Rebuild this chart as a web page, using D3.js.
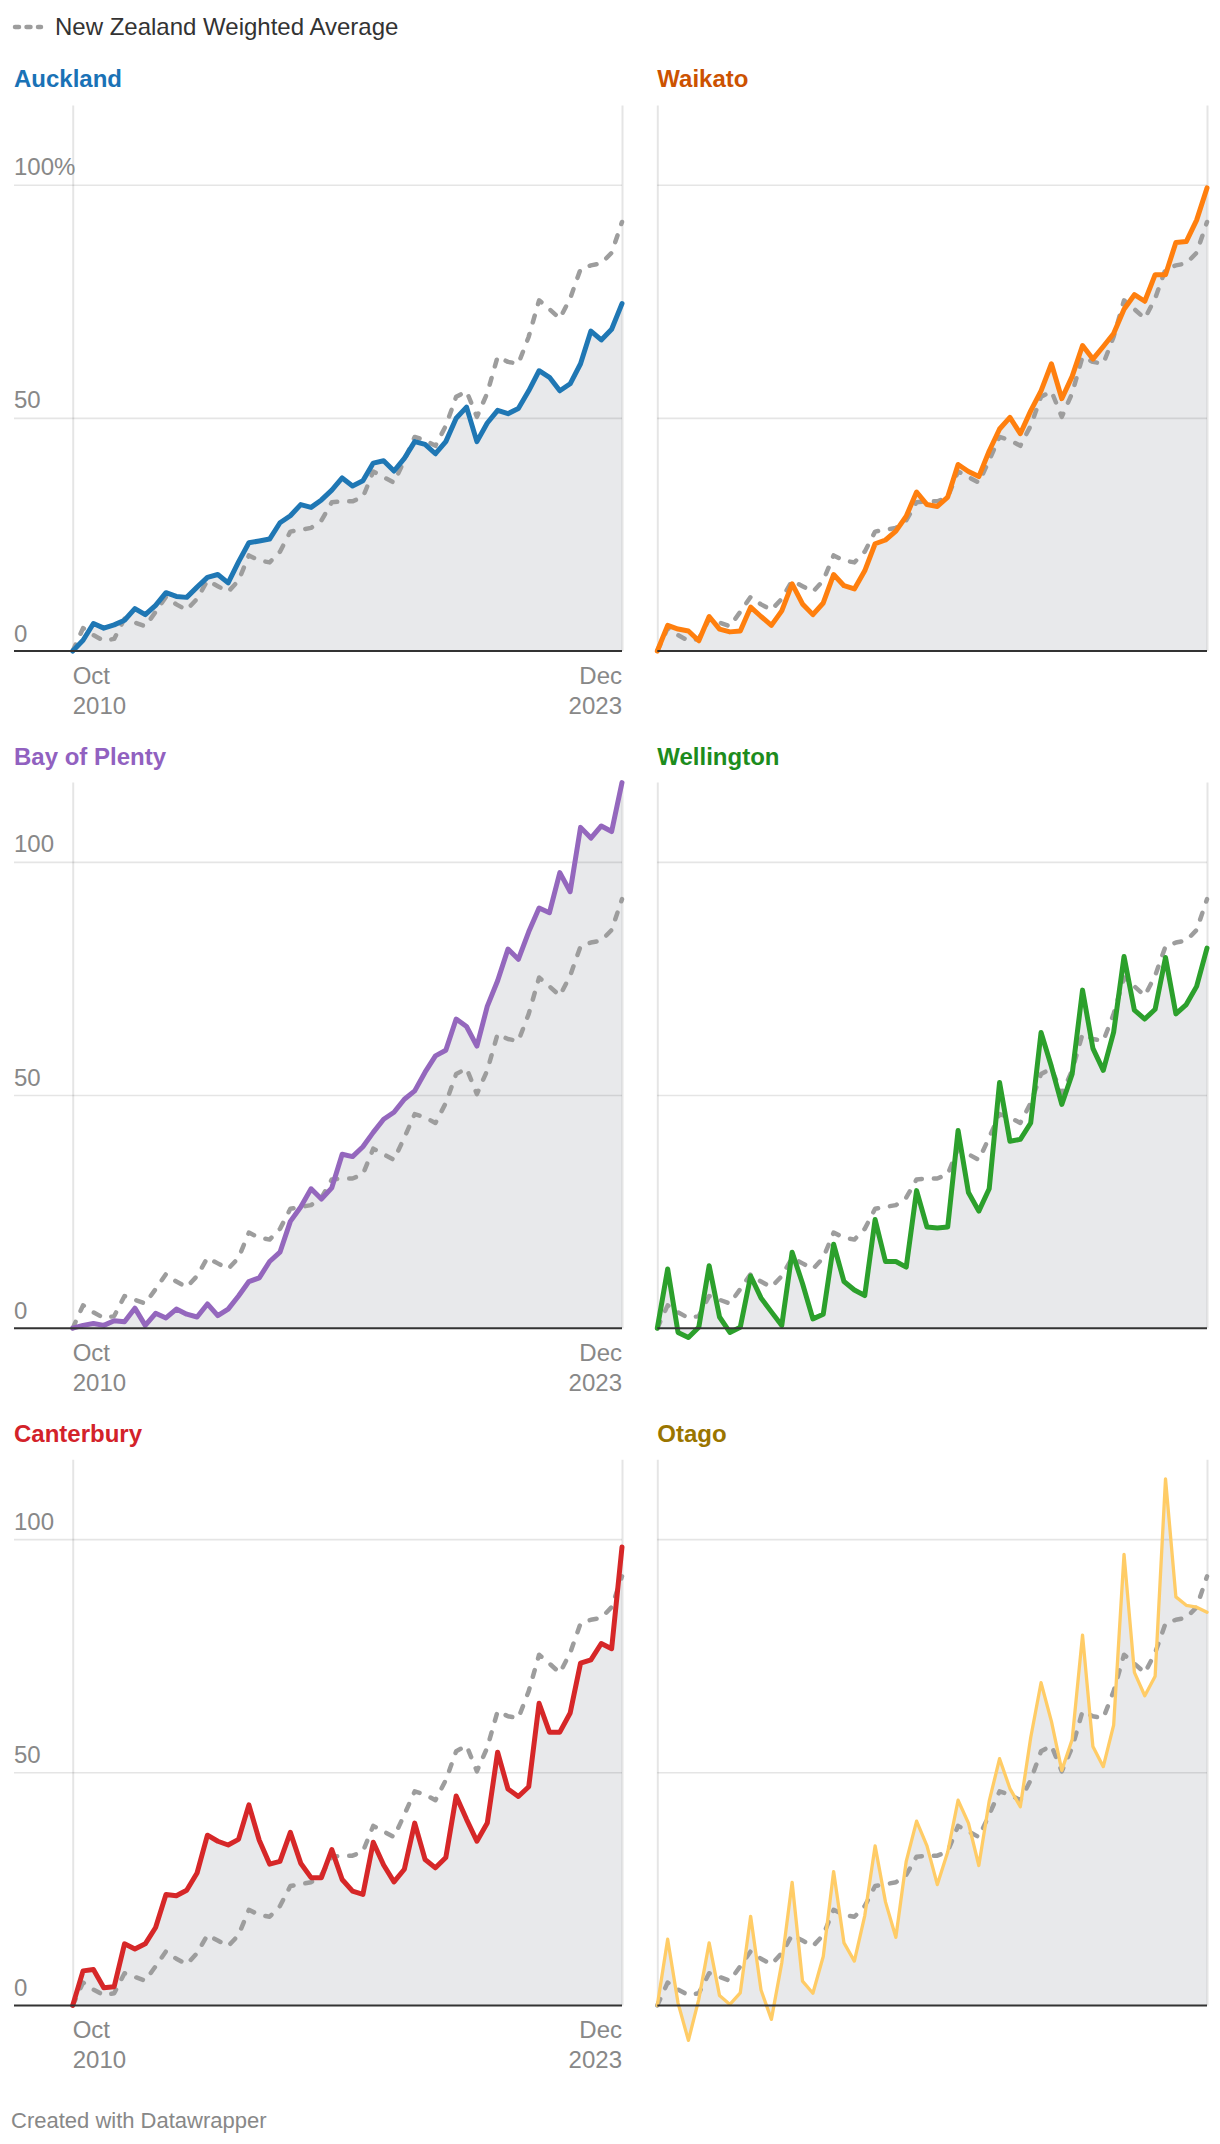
<!DOCTYPE html>
<html><head><meta charset="utf-8">
<script src="https://cdn.jsdelivr.net/npm/d3@7/dist/d3.min.js"></script>
<style>
html,body{margin:0;padding:0;background:#fff;}
svg{display:block;font-family:"Liberation Sans",Arial,Helvetica,sans-serif;}
</style>
</head><body>
<svg id="chart" width="1220" height="2144"></svg>
<script>
// ---------- DATA ----------
const regions = ["Auckland","Waikato","Bay of Plenty","Wellington","Canterbury","Otago"];
const lineColors = ["#1f77b4","#ff7f0e","#9467bd","#2ca02c","#d62728","#ffcc66"];
const titleColors = ["#1a72b6","#cc5200","#9161c0","#1d8c1d","#d3222a","#9a7500"];
const lineWidths = [5,5,5,5,5,3.3];

const auckland = [0,2.3,5.9,4.9,5.6,6.6,9.1,7.8,9.8,12.5,11.7,11.5,13.7,15.8,16.4,14.6,19.1,23.2,23.6,24.0,27.5,29.0,31.4,30.8,32.4,34.5,37.1,35.4,36.5,40.3,40.8,38.6,41.3,44.9,44.3,42.3,44.9,49.9,52.3,44.9,48.9,51.6,50.9,52.0,55.8,60.1,58.7,55.8,57.3,61.6,68.6,66.7,69.0,74.5];
const waikato = [0,5.5,4.7,4.3,2.2,7.4,4.7,4.1,4.3,9.4,7.4,5.5,8.6,14.4,10.1,7.8,10.3,16.4,14.0,13.3,17.2,23.0,23.8,25.7,28.9,34.1,31.4,31.0,33.0,40.0,38.5,37.4,42.9,47.6,50.1,46.6,51.5,55.8,61.6,54.1,58.9,65.5,62.6,65.3,68.1,73.3,76.4,75.0,80.7,80.7,87.6,87.8,92.4,99.3];
const bayOfPlenty = [0,0.6,1.0,0.6,1.6,1.4,4.3,0.6,3.2,2.2,4.1,3.0,2.4,5.2,2.7,4.1,6.9,10.0,10.8,14.3,16.3,22.9,26.0,29.9,27.7,30.1,37.3,36.8,38.9,42.0,44.8,46.3,49.1,50.9,54.9,58.4,59.6,66.3,64.7,60.5,69.0,74.5,81.3,79.1,85.0,90.1,89.1,97.7,93.6,107.4,105.1,107.7,106.5,117.0];
const wellington = [0,12.7,-0.9,-2.0,0.2,13.4,2.4,-0.9,0.2,11.2,6.5,3.5,0.6,16.3,9.6,2.0,3.0,18.0,10.0,8.2,7.0,23.3,14.3,14.3,13.1,29.5,21.7,21.5,21.7,42.4,29.1,25.1,29.9,52.7,40.1,40.5,44.0,63.4,56.1,48.0,54.5,72.5,60.0,55.3,63.5,79.7,68.2,66.3,68.4,79.5,67.4,69.4,73.3,81.5];
const canterbury = [0,7.4,7.7,3.8,4.0,13.2,12.1,13.2,16.7,23.8,23.5,24.7,28.4,36.5,35.2,34.4,35.6,43.0,35.4,30.3,30.9,37.1,30.5,27.4,27.4,33.4,27.0,24.5,23.8,35.0,30.1,26.5,29.2,39.1,31.3,29.5,31.7,44.9,39.9,35.2,39.1,54.3,46.4,44.8,46.9,64.8,58.6,58.6,62.7,73.4,74.1,77.6,76.5,98.3];
const otago = [0,14.2,0.5,-7.5,1.3,13.4,2.1,0.2,2.7,19.1,3.3,-3.0,9.1,26.4,5.2,2.6,10.5,28.7,13.4,9.5,19.2,34.2,22.2,14.6,30.9,39.5,34.2,25.9,32.9,44.0,39.1,30.0,43.8,52.9,46.5,42.6,57.4,69.2,60.9,50.4,57.0,79.4,55.5,51.2,60.1,96.7,71.4,66.4,70.6,112.9,87.6,85.8,85.4,84.3];
const nzAverage = [0,4.9,3.4,2.2,2.6,6.9,6.1,5.3,8.4,11.6,10.0,8.8,11.2,15.1,13.9,12.7,15.1,20.5,19.4,19.0,21.3,25.6,26.0,26.4,28.0,31.9,32.1,32.1,33.0,38.5,37.3,36.1,40.9,45.9,45.2,44.0,48.3,54.5,55.7,50.2,55.3,63.1,62.0,61.6,67.4,75.2,73.3,71.3,75.6,81.9,82.7,83.1,85.4,92.0];
const regionSeries = [auckland, waikato, bayOfPlenty, wellington, canterbury, otago];

const yTicks = [0, 50, 100];
const yTickLabelsFirstRow = ["0", "50", "100%"];
const yTickLabels = ["0", "50", "100"];
const xTickLabels = [["Oct","2010"],["Dec","2023"]];
const legendLabel = "New Zealand Weighted Average";
const footerText = "Created with Datawrapper";

// ---------- LAYOUT ----------
const svg = d3.select("#chart");
const cols = [
  {plotL: 72.7, plotR: 622, gridL: 14, showY: true, showX: true},
  {plotL: 657.3, plotR: 1207, gridL: 657.3, showY: false, showX: false}
];
const firstBase = 651, rowPitch = 677.2, plotH = 545.6;
const n = nzAverage.length;
const yMax = d3.max(regionSeries.concat([nzAverage]), s => d3.max(s));
const avgColor = "#9d9d9d";
const fillColor = "#e8e9eb";
const gridColor = "rgba(0,0,0,0.1)";
const labelColor = "#888888";

// legend
const leg = svg.append("g");
leg.append("line").attr("x1", 15).attr("x2", 41).attr("y1", 27).attr("y2", 27)
  .attr("stroke", avgColor).attr("stroke-width", 4.5).attr("stroke-linecap", "round")
  .attr("stroke-dasharray", "4 7.5");
leg.append("text").attr("x", 55).attr("y", 35).attr("font-size", 24).attr("fill", "#333")
  .text(legendLabel);

regions.forEach((name, k) => {
  const col = cols[k % 2];
  const row = Math.floor(k / 2);
  const base = firstBase + row * rowPitch;
  const x = d3.scaleLinear().domain([0, n - 1]).range([col.plotL, col.plotR]);
  const y = d3.scaleLinear().domain([0, yMax]).range([base, base - plotH]);
  const g = svg.append("g");
  const data = regionSeries[k];

  // area
  g.append("path").datum(data)
    .attr("d", d3.area().x((d, i) => x(i)).y0(y(0)).y1(d => y(d)))
    .attr("fill", fillColor);

  // horizontal grid
  const ga = g.append("g").attr("transform", `translate(${col.gridL},0)`);
  ga.call(d3.axisRight(y).tickValues(yTicks.filter(t => t > 0)).tickSize(col.plotR - col.gridL).tickFormat(""));
  ga.select(".domain").remove();
  ga.selectAll(".tick line").attr("stroke", gridColor).attr("stroke-width", 1.6);

  // vertical grid at first/last points
  const gx = g.append("g").attr("transform", `translate(0,${y(0)})`)
    .call(d3.axisTop(x).tickValues([0, n - 1]).tickSize(y(0) - y(yMax)).tickFormat(""));
  gx.select(".domain").remove();
  gx.selectAll(".tick line").attr("stroke", gridColor).attr("stroke-width", 2);

  // y labels
  if (col.showY) {
    const labs = row === 0 ? yTickLabelsFirstRow : yTickLabels;
    yTicks.forEach((t, j) => {
      g.append("text").attr("x", col.gridL).attr("y", y(t) - 9.5)
        .attr("font-size", 24).attr("fill", labelColor).text(labs[j]);
    });
  }

  // average dashed line
  g.append("path").datum(nzAverage)
    .attr("d", d3.line().x((d, i) => x(i)).y(d => y(d)))
    .attr("fill", "none").attr("stroke", avgColor).attr("stroke-width", 4.5)
    .attr("stroke-linecap", "round").attr("stroke-linejoin", "round")
    .attr("stroke-dasharray", "7 12");

  // region line
  g.append("path").datum(data)
    .attr("d", d3.line().x((d, i) => x(i)).y(d => y(d)))
    .attr("fill", "none").attr("stroke", lineColors[k]).attr("stroke-width", lineWidths[k])
    .attr("stroke-linejoin", "round").attr("stroke-linecap", "round");

  // baseline
  g.append("line").attr("x1", col.gridL).attr("x2", col.plotR)
    .attr("y1", y(0)).attr("y2", y(0)).attr("stroke", "#333").attr("stroke-width", 2);

  // title
  g.append("text").attr("x", col.gridL).attr("y", base - plotH - 18)
    .attr("font-size", 24).attr("font-weight", "bold").attr("fill", titleColors[k]).text(name);

  // x labels
  if (col.showX) {
    xTickLabels.forEach((lab, j) => {
      const t = g.append("text").attr("x", x(j === 0 ? 0 : n - 1))
        .attr("text-anchor", j === 0 ? "start" : "end")
        .attr("font-size", 24).attr("fill", labelColor);
      t.append("tspan").attr("y", y(0) + 33).text(lab[0]);
      t.append("tspan").attr("x", x(j === 0 ? 0 : n - 1)).attr("y", y(0) + 63).text(lab[1]);
    });
  }
});

svg.append("text").attr("x", 11).attr("y", 2128).attr("font-size", 22).attr("fill", labelColor).text(footerText);
</script>
</body></html>
